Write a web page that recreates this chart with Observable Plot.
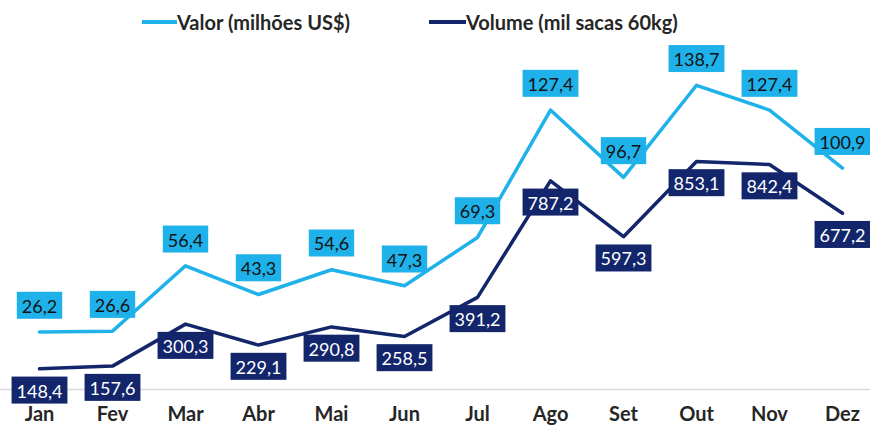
<!DOCTYPE html>
<html><head><meta charset="utf-8">
<script src="https://cdn.jsdelivr.net/npm/d3@7"></script>
<script src="https://cdn.jsdelivr.net/npm/@observablehq/plot@0.6"></script>
<style>
html,body{margin:0;padding:0;background:#fff;}
body{width:870px;height:425px;overflow:hidden;font-family:Lato,"Open Sans",sans-serif;}
#legend{position:relative;height:40px;width:870px;}
.sw{position:absolute;top:20px;height:4px;}
.lt{position:absolute;top:9px;font-size:20px;font-weight:700;color:#262626;line-height:26px;white-space:nowrap;}
#chart svg g[aria-label="x-axis tick label"] text{font-size:20px;font-weight:700;fill:#262626;}
</style></head><body>
<div id="legend"></div>
<div id="chart"></div>
<script>
const months = ["Jan","Fev","Mar","Abr","Mai","Jun","Jul","Ago","Set","Out","Nov","Dez"];
const valor = [26.2,26.6,56.4,43.3,54.6,47.3,69.3,127.4,96.7,138.7,127.4,100.9];
const volume = [148.4,157.6,300.3,229.1,290.8,258.5,391.2,787.2,597.3,853.1,842.4,677.2];
const seriesNames = ["Valor (milhões US$)", "Volume (mil sacas 60kg)"];
const colors = ["#1FB1E9", "#13256B"];
// primary (valor) and secondary (volume) axis domains, sharing the plot area
const valorDomain = [-10.5, 150];
const volumeDomain = [0, 1196];

const fmt = v => v.toFixed(1).replace(".", ",");
const toPrimary = v => valorDomain[0] + (v - volumeDomain[0]) / (volumeDomain[1] - volumeDomain[0]) * (valorDomain[1] - valorDomain[0]);

const valorRows = months.map((m, i) => ({month: m, y: valor[i], label: fmt(valor[i])}));
const volumeRows = months.map((m, i) => ({month: m, y: toPrimary(volume[i]), label: fmt(volume[i])}));

// legend
const legend = document.getElementById("legend");
const legendPos = [[142, 35, 177], [429, 37, 466]];
seriesNames.forEach((name, i) => {
  const sw = document.createElement("div");
  sw.className = "sw";
  sw.style.left = legendPos[i][0] + "px";
  sw.style.width = legendPos[i][1] + "px";
  sw.style.background = colors[i];
  const t = document.createElement("div");
  t.className = "lt";
  t.style.left = legendPos[i][2] + "px";
  t.textContent = name;
  legend.append(sw, t);
});

const chart = Plot.plot({
  width: 870,
  height: 385,
  marginTop: 0,
  marginBottom: 36,
  marginLeft: 36,
  marginRight: 25,
  style: {fontFamily: "Lato, 'Open Sans', sans-serif", background: "#fff", overflow: "visible"},
  x: {type: "point", domain: months, range: [36, 845], padding: 0, axis: null},
  y: {domain: valorDomain, range: [372, 20], axis: null},
  marks: [
    Plot.ruleY([0], {stroke: "#d9d9d9", strokeWidth: 1.5, insetLeft: -36, insetRight: -25}),
    Plot.lineY(valorRows, {x: "month", y: "y", stroke: colors[0], strokeWidth: 3.5}),
    Plot.lineY(volumeRows, {x: "month", y: "y", stroke: colors[1], strokeWidth: 3.5}),
    Plot.text(valorRows, {x: "month", y: "y", text: "label", dy: -25, fill: "#111", fontSize: 18}),
    Plot.text(volumeRows, {x: "month", y: "y", text: "label", dy: 23, fill: "#fff", fontSize: 18}),
    Plot.axisX({tickSize: 0, tickPadding: 17, label: null, fontSize: 20, fontWeight: 700, fill: "#262626"})
  ]
});
document.getElementById("chart").append(chart);

const textGroups = chart.querySelectorAll('g[aria-label="text"]');
[0, 1].forEach(k => {
  const g = textGroups[k];
  if (!g) return;
  g.querySelectorAll("text").forEach(t => {
    const b = t.getBBox();
    const r = document.createElementNS("http://www.w3.org/2000/svg", "rect");
    r.setAttribute("x", b.x - 5);
    r.setAttribute("y", b.y - 3);
    r.setAttribute("width", b.width + 10);
    r.setAttribute("height", b.height + 5);
    r.setAttribute("fill", colors[k]);
    const tr = t.getAttribute("transform");
    if (tr) r.setAttribute("transform", tr);
    t.parentNode.insertBefore(r, t);
  });
});
</script>
</body></html>
